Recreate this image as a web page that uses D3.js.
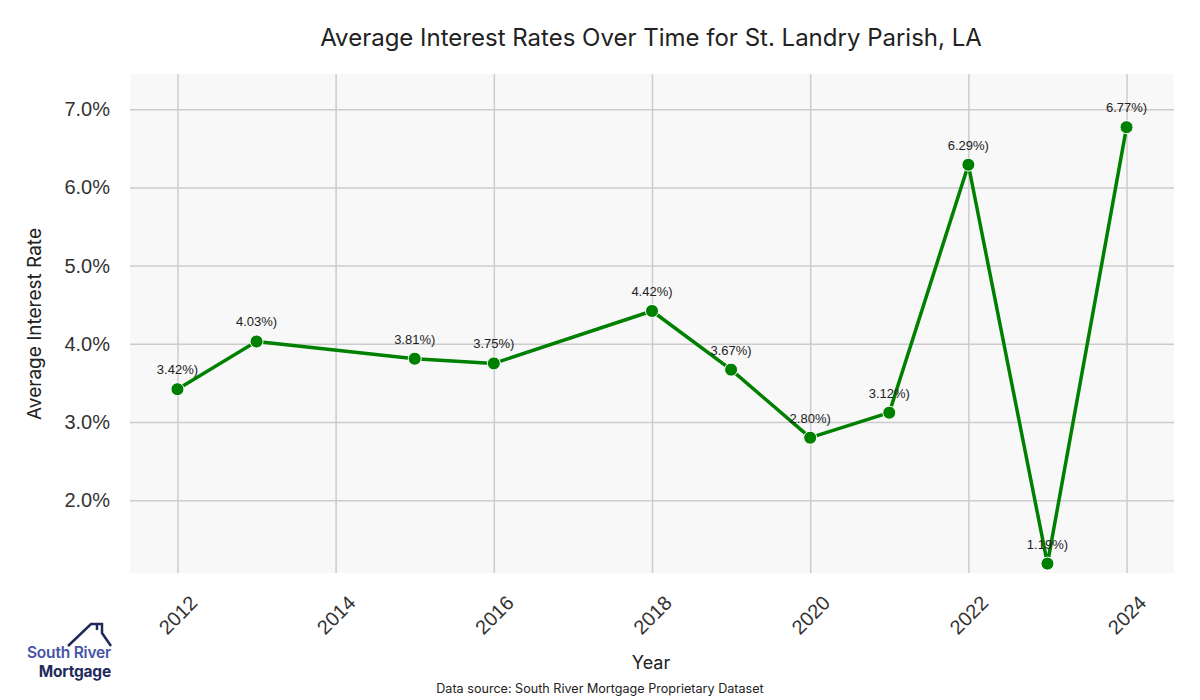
<!DOCTYPE html>
<html>
<head>
<meta charset="utf-8">
<script src="https://cdn.jsdelivr.net/npm/d3@7"></script>
<style>
  body { margin: 0; background: #fff; }
  svg { display: block; }
</style>
</head>
<body>
<svg id="chart" width="1200" height="700"></svg>
<script>
// data
const years = [2012, 2013, 2015, 2016, 2018, 2019, 2020, 2021, 2022, 2023, 2024];
const rates = [3.42, 4.03, 3.81, 3.75, 4.42, 3.67, 2.80, 3.12, 6.29, 1.19, 6.77];
const xTicks = [2012, 2014, 2016, 2018, 2020, 2022, 2024];
const yTicks = [2, 3, 4, 5, 6, 7];

const svg = d3.select('#chart');
const plot = { left: 130, right: 1174, top: 74, bottom: 573 };

const x = d3.scaleLinear().domain([2011.4, 2024.6]).range([plot.left, plot.right]);
const y = d3.scaleLinear().domain([1.07, 7.45]).range([plot.bottom, plot.top]);

const tickFont = '"Liberation Sans", Arial, sans-serif';
const labelFont = 'Inter, "Open Sans", sans-serif';

// background
svg.append('rect')
  .attr('x', plot.left).attr('y', plot.top)
  .attr('width', plot.right - plot.left).attr('height', plot.bottom - plot.top)
  .attr('fill', '#f8f8f8');

// grid
const xAxis = svg.append('g')
  .attr('transform', `translate(0,${plot.bottom})`)
  .call(d3.axisBottom(x).tickValues(xTicks).tickSize(-(plot.bottom - plot.top)).tickFormat(d3.format('d')));
xAxis.select('.domain').remove();
xAxis.selectAll('.tick line').attr('stroke', '#cccccc').attr('stroke-width', 1.5);
xAxis.selectAll('.tick text')
  .attr('font-family', tickFont).attr('font-size', 20).attr('fill', '#333')
  .attr('text-anchor', 'middle').attr('dy', null).attr('y', 42)
  .attr('dominant-baseline', 'central')
  .attr('transform', 'rotate(-45, 0, 42)');

const yAxis = svg.append('g')
  .attr('transform', `translate(${plot.left},0)`)
  .call(d3.axisLeft(y).tickValues(yTicks).tickSize(-(plot.right - plot.left)).tickFormat(d => d.toFixed(1) + '%'));
yAxis.select('.domain').remove();
yAxis.selectAll('.tick line').attr('stroke', '#cccccc').attr('stroke-width', 1.5);
yAxis.selectAll('.tick text')
  .attr('font-family', tickFont).attr('font-size', 20).attr('fill', '#333')
  .attr('x', -20);

// line + markers
const pts = years.map((yr, i) => ({ year: yr, rate: rates[i] }));
const line = d3.line().x(d => x(d.year)).y(d => y(d.rate));

svg.append('path')
  .datum(pts)
  .attr('d', line)
  .attr('fill', 'none')
  .attr('stroke', '#008000')
  .attr('stroke-width', 3.5)
  .attr('stroke-linejoin', 'round');

svg.selectAll('circle.pt')
  .data(pts)
  .join('circle')
  .attr('class', 'pt')
  .attr('cx', d => x(d.year))
  .attr('cy', d => y(d.rate))
  .attr('r', 6.5)
  .attr('fill', '#008000')
  .attr('stroke', '#fff')
  .attr('stroke-width', 1);

svg.selectAll('text.val')
  .data(pts)
  .join('text')
  .attr('class', 'val')
  .attr('x', d => x(d.year))
  .attr('y', d => y(d.rate) - 15)
  .attr('text-anchor', 'middle')
  .attr('font-family', tickFont)
  .attr('font-size', 13)
  .attr('fill', '#222')
  .text(d => d.rate.toFixed(2) + '%)');

// titles
svg.append('text')
  .attr('x', 651).attr('y', 46)
  .attr('text-anchor', 'middle')
  .attr('font-family', labelFont).attr('font-size', 24).attr('fill', '#222')
  .text('Average Interest Rates Over Time for St. Landry Parish, LA');

svg.append('text')
  .attr('x', 651).attr('y', 669)
  .attr('text-anchor', 'middle')
  .attr('font-family', labelFont).attr('font-size', 18).attr('fill', '#222')
  .text('Year');

svg.append('text')
  .attr('transform', 'translate(41,324) rotate(-90)')
  .attr('text-anchor', 'middle')
  .attr('font-family', labelFont).attr('font-size', 19).attr('fill', '#222')
  .text('Average Interest Rate');

svg.append('text')
  .attr('x', 600).attr('y', 693)
  .attr('text-anchor', 'middle')
  .attr('font-family', labelFont).attr('font-size', 12.6).attr('fill', '#222')
  .text('Data source: South River Mortgage Proprietary Dataset');

// logo
const logo = svg.append('g');
logo.append('path')
  .attr('d', 'M68,646 L91,624 L97,624 L97,630 L97,624 L102,624 L102,633 L111,646')
  .attr('fill', 'none').attr('stroke', '#1e2a5c').attr('stroke-width', 2.5)
  .attr('stroke-linejoin', 'miter');
logo.append('text')
  .attr('x', 111).attr('y', 658).attr('text-anchor', 'end')
  .attr('font-family', labelFont).attr('font-size', 15.5).attr('font-weight', 600)
  .attr('fill', '#4654a5').attr('letter-spacing', -0.2)
  .text('South River');
logo.append('text')
  .attr('x', 111).attr('y', 677).attr('text-anchor', 'end')
  .attr('font-family', labelFont).attr('font-size', 15.5).attr('font-weight', 700)
  .attr('fill', '#1e2a5c').attr('letter-spacing', -0.2)
  .text('Mortgage');
</script>
</body>
</html>
